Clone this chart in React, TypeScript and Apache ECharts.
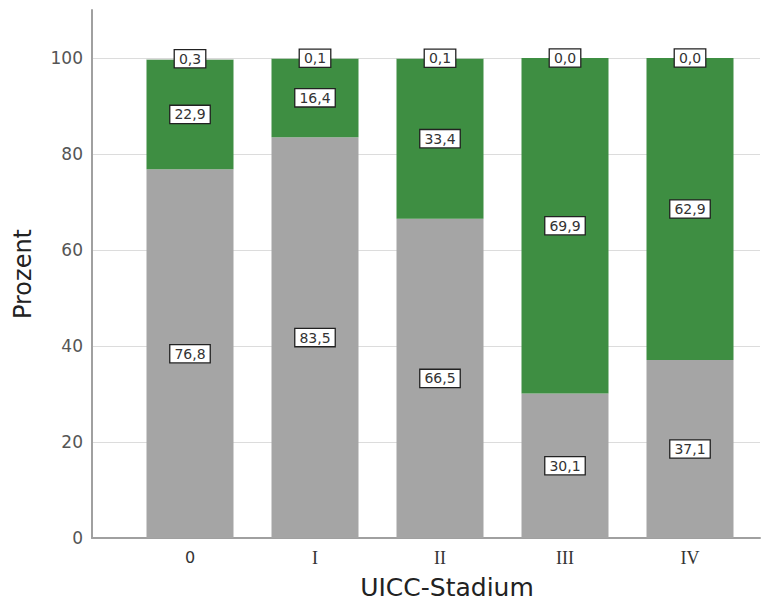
import React, { useEffect, useRef } from "react";
import * as echarts from "echarts";

const categories = ["0", "I", "II", "III", "IV"];
const grayValues = [76.8, 83.5, 66.5, 30.1, 37.1];
const greenValues = [22.9, 16.4, 33.4, 69.9, 62.9];
const topValues = [0.3, 0.1, 0.1, 0.0, 0.0];
const yTickInterval = 20;

const fmt = (v: number) => v.toFixed(1).replace(".", ",");

export default function App() {
  const ref = useRef<HTMLDivElement>(null);
  useEffect(() => {
    if (!ref.current) return;
    const chart = echarts.init(ref.current, null, { renderer: "svg" });
    const label = {
      show: true,
      position: "inside",
      formatter: (p: any) => fmt(p.value),
      backgroundColor: "#ffffff",
      borderColor: "#222222",
      borderWidth: 1.3,
      padding: [2, 4, 1, 4],
      color: "#333333",
      fontSize: 14,
      fontFamily: "DejaVu Sans",
      textBorderWidth: 0,
    };
    const mkSeries = (name: string, data: number[], color: string) => ({
      name,
      type: "bar",
      stack: "total",
      xAxisIndex: 1,
      yAxisIndex: 1,
      barWidth: 87,
      data,
      itemStyle: { color },
      label,
    });
    chart.setOption({
      animation: false,
      textStyle: { fontFamily: "DejaVu Sans" },
      grid: [
        { left: 92, right: 3, top: 10, bottom: 71 },
        { left: 127.5, right: 10.5, top: 10, bottom: 71 },
      ],
      xAxis: [
        {
          type: "value",
          gridIndex: 0,
          min: 0,
          max: 1,
          axisLine: { show: true, lineStyle: { color: "#a0a0a0", width: 2 } },
          axisTick: { show: false },
          axisLabel: { show: false },
          splitLine: { show: false },
        },
        {
          type: "category",
          gridIndex: 1,
          data: categories,
          axisLine: { show: false },
          axisTick: { show: false },
          axisLabel: {
            margin: 11,
            formatter: (v: string) => (v === "0" ? `{s|${v}}` : `{r|${v}}`),
            rich: {
              s: { fontFamily: "DejaVu Sans", fontSize: 16, color: "#333" },
              r: { fontFamily: "Liberation Serif", fontSize: 18, color: "#333" },
            },
          },
          name: "UICC-Stadium",
          nameLocation: "middle",
          nameGap: 37,
          nameTextStyle: { fontSize: 25, color: "#222", padding: [0, 0, 0, 14] },
        },
      ],
      yAxis: [
        {
          type: "value",
          gridIndex: 0,
          min: 0,
          max: 110,
          interval: yTickInterval,
          axisLine: { show: true, lineStyle: { color: "#a0a0a0", width: 2 } },
          axisTick: { show: false },
          axisLabel: { showMaxLabel: false, fontSize: 17, color: "#555", margin: 9 },
          splitLine: {
            show: true,
            showMaxLine: false,
            showMinLine: false,
            lineStyle: { color: "#dcdcdc", width: 1 },
          },
          name: "Prozent",
          nameLocation: "middle",
          nameRotate: 90,
          nameGap: 57,
          nameTextStyle: { fontSize: 24, color: "#222" },
        },
        {
          type: "value",
          gridIndex: 1,
          min: 0,
          max: 110,
          interval: yTickInterval,
          show: false,
        },
      ],
      series: [
        mkSeries("grau", grayValues, "#a5a5a5"),
        mkSeries("grün", greenValues, "#3e8e42"),
        mkSeries("sonstige", topValues, "#d9d9d9"),
      ],
    });
    return () => chart.dispose();
  }, []);
  return (
    <div
      ref={ref}
      style={{ position: "fixed", left: 0, top: 0, width: 763, height: 609, background: "#fff" }}
    />
  );
}
